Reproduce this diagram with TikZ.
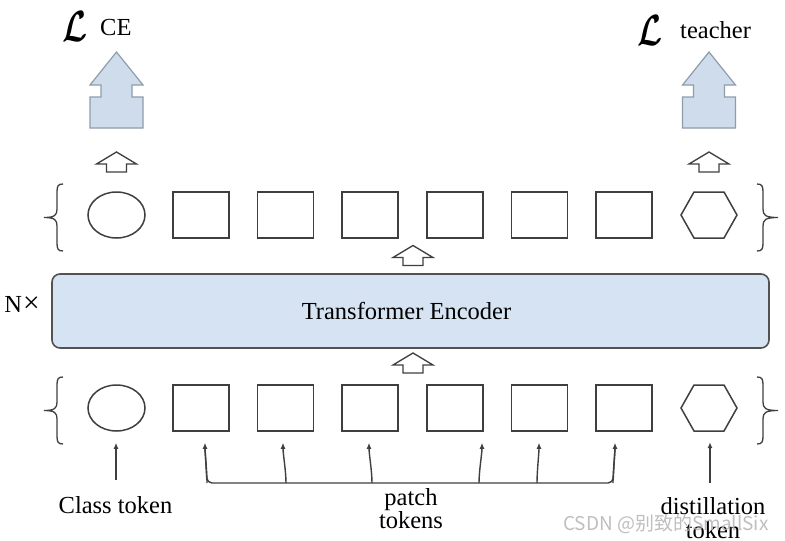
\documentclass[tikz,border=0pt]{standalone}
\usepackage{fontspec}
\setmainfont{Liberation Serif}
\newfontfamily\cjkfont{Noto Sans CJK SC}
\usepackage{amsmath,bm}
\usetikzlibrary{arrows.meta,calc,shapes.geometric}
\definecolor{lineg}{HTML}{3F3F3F}
\definecolor{encfill}{HTML}{D6E3F2}
\definecolor{bigfill}{HTML}{CFDCEC}
\definecolor{bigdraw}{HTML}{8F9CAA}
\definecolor{wmark}{HTML}{B4B4B4}
\tikzset{
  tok/.style={draw=lineg, line width=1.5pt, minimum width=56pt, minimum height=46pt, inner sep=0pt},
  clstok/.style={tok, ellipse, minimum width=57pt, minimum height=46pt},
  sqtok/.style={tok, rectangle},
  hexspot/.style={minimum width=56pt, minimum height=46pt, inner sep=0pt},
  hexline/.style={draw=lineg, line width=1.5pt, line join=miter},
  encbox/.style={draw=lineg!90, fill=encfill, line width=1.6pt, rounded corners=8pt, minimum width=717pt, minimum height=74pt, inner sep=0pt},
  txt/.style={inner sep=0pt, font=\fontsize{24.5}{24}\selectfont},
  feed/.style={draw=lineg, line width=1.4pt, -{Latex[length=6pt,width=5pt]}},
  bus/.style={draw=lineg, line width=1.4pt, rounded corners=5pt},
  bracestyle/.style={draw=lineg, line width=1.3pt},
  hollowup/.pic={\draw[draw=lineg, fill=white, line width=1.3pt, line join=miter]
     (0,-10) -- (20,2) -- (10,2) -- (10,10) -- (-10,10) -- (-10,2) -- (-20,2) -- cycle;},
  bigup/.pic={\draw[draw=bigdraw, fill=bigfill, line width=1.2pt, line join=miter]
     (0,-38) -- (26.5,-5) -- (15.5,-5) -- (15.5,7) -- (26.5,7) -- (26.5,38) -- (-26.5,38) -- (-26.5,7) -- (-15.5,7) -- (-15.5,-5) -- (-26.5,-5) -- cycle;}
}
\newcommand{\lossL}{\resizebox{25pt}{30pt}{$\bm{\mathcal{L}}$}}
\begin{document}
\begin{tikzpicture}[x=1pt,y=-1pt]
\useasboundingbox (0,0) rectangle (785,541);
\fill[white] (0,0) rectangle (785,541);

% losses
\node[inner sep=0pt] (lce) at (75.5,26) {\lossL};
\node[txt, anchor=base west] (ce) at (100,35) {CE};
\node[inner sep=0pt] (lte) at (649.5,30) {\lossL};
\node[txt, anchor=base west] (te) at (680,38) {teacher};

\pic at (116.5,90) {bigup};
\pic at (709,90) {bigup};
\pic at (116.5,162) {hollowup};
\pic at (709,162) {hollowup};

% top row
\node[clstok] (tc) at (116.5,215) {};
\foreach \i/\x in {1/201,2/285.5,3/370,4/455,5/539.5,6/624}
  \node[sqtok] (t\i) at (\x,215) {};
\node[hexspot] (th) at (709,215) {};
\draw[hexline] ($(th.center)+(-28,0)$) -- ($(th.center)+(-15,-23)$) -- ($(th.center)+(15,-23)$) -- ($(th.center)+(28,0)$) -- ($(th.center)+(15,23)$) -- ($(th.center)+(-15,23)$) -- cycle;

% braces top
\draw[bracestyle] (63,184) .. controls (58,184) and (57,186) .. (57,192) -- (57,209) .. controls (57,215) and (55,217.5) .. (44,217.5) .. controls (55,217.5) and (57,220) .. (57,226) -- (57,243) .. controls (57,249) and (58,251) .. (63,251);
\draw[bracestyle] (757,184) .. controls (762,184) and (763,186) .. (763,192) -- (763,209) .. controls (763,215) and (765,217.5) .. (778,217.5) .. controls (765,217.5) and (763,220) .. (763,226) -- (763,243) .. controls (763,249) and (762,251) .. (757,251);

\pic at (413,255.5) {hollowup};

% encoder
\node[encbox, font=\fontsize{24.5}{24}\selectfont] (enc) at (410.5,311) {\hspace*{-8pt}Transformer Encoder};
\node[txt, anchor=base] (nx) at (22,312) {N\kern1pt\scalebox{1.2}{×}};

\pic at (413,363) {hollowup};

% bottom row
\node[clstok] (bc) at (116.5,408) {};
\foreach \i/\x in {1/201,2/285.5,3/370,4/455,5/539.5,6/624}
  \node[sqtok] (b\i) at (\x,408) {};
\node[hexspot] (bh) at (709,408) {};
\draw[hexline] ($(bh.center)+(-28,0)$) -- ($(bh.center)+(-15,-23)$) -- ($(bh.center)+(15,-23)$) -- ($(bh.center)+(28,0)$) -- ($(bh.center)+(15,23)$) -- ($(bh.center)+(-15,23)$) -- cycle;

\draw[bracestyle] (63,377) .. controls (58,377) and (57,379) .. (57,385) -- (57,402) .. controls (57,408) and (55,410.5) .. (44,410.5) .. controls (55,410.5) and (57,413) .. (57,419) -- (57,436) .. controls (57,442) and (58,444) .. (63,444);
\draw[bracestyle] (757,377) .. controls (762,377) and (763,379) .. (763,385) -- (763,402) .. controls (763,408) and (765,410.5) .. (778,410.5) .. controls (765,410.5) and (763,413) .. (763,419) -- (763,436) .. controls (763,442) and (762,444) .. (757,444);

% feeding arrows
\coordinate (cfoot) at (116,480);
\draw[feed] (cfoot) -- ($(bc.south)+(-0.5,11)$);
\coordinate (dfoot) at (710,483);
\draw[feed] (dfoot) -- ($(bh.south)+(1,11)$);

\coordinate (p1) at (207,483);
\coordinate (p6) at (613,483);
\draw[bus] ($(b1.south)+(4,16)$) -- (p1) -- (p6) -- ($(b6.south)+(-9,16)$);
\foreach \i/\xb/\dx in {1/207/4,2/286/-2.5,3/372/-1,4/479/27,5/537/-0.5,6/613/-9}{
  \coordinate (pb\i) at (\xb,483);
  \draw[feed] (pb\i) .. controls ($(pb\i)+(0,-12)$) and ($(b\i.south)+(\dx,22)$) .. ($(b\i.south)+(\dx,11)$);
}

% labels
\node[txt, anchor=base] (cls) at (115.5,513) {Class token};
\node[txt, anchor=base] (pt1) at (411,505) {patch};
\node[txt, anchor=base] (pt2) at (411,528) {tokens};
\node[txt, anchor=base] (dt1) at (713,514) {distillation};
\node[txt, anchor=base] (dt2) at (713,538) {token};

\node[inner sep=0pt, anchor=base west, text=wmark, opacity=0.85, font=\cjkfont\fontsize{19}{20}\selectfont] (wm) at (563,530) {CSDN @别致的SmallSix};
\end{tikzpicture}
\end{document}
